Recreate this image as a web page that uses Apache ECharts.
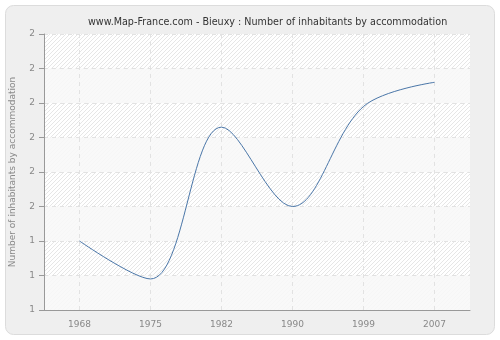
<!DOCTYPE html>
<html><head><meta charset="utf-8">
<script src="https://cdn.jsdelivr.net/npm/echarts@6/dist/echarts.min.js"></script>
<style>html,body{margin:0;padding:0;background:#fff}#c{width:500px;height:340px}</style>
</head><body><div id="c"></div>
<script>
const years = ['1968','1975','1982','1990','1999','2007'];
const values = [1.40, 1.29, 1.73, 1.50, 1.79, 1.86];
const yMin = 1.2, yMax = 2.0, yStep = 0.1;
const titleText = 'www.Map-France.com - Bieuxy : Number of inhabitants by accommodation';
const yName = 'Number of inhabitants by accommodation';

const pc = document.createElement('canvas');
pc.width = 4; pc.height = 4;
const g = pc.getContext('2d');
g.fillStyle = '#ffffff'; g.fillRect(0,0,4,4);
g.strokeStyle = '#e6e6e6'; g.lineWidth = 1;
g.beginPath();
for (let k=-4;k<=8;k+=4){ g.moveTo(k,4); g.lineTo(k+4,0); }
g.stroke();

const chart = echarts.init(document.getElementById('c'));
chart.setOption({
  animation:false,
  backgroundColor:'#ffffff',
  graphic:[{type:'rect',z:-10,shape:{x:5.5,y:5.5,width:489,height:329,r:8},style:{fill:'#efefef',stroke:'#dcdcdc',lineWidth:1}}],
  title:{text:titleText,left:83,top:12,textStyle:{fontFamily:'DejaVu Sans',fontSize:9.6,fontWeight:'normal',color:'#333'}},
  grid:{left:40,right:30,top:34,bottom:30,show:true,backgroundColor:{image:pc,repeat:'repeat'},borderWidth:0},
  xAxis:{type:'category',data:years,boundaryGap:true,
    axisLine:{lineStyle:{color:'#999'}},
    axisTick:{alignWithLabel:true,length:5,lineStyle:{color:'#999'}},
    axisLabel:{color:'#888',fontFamily:'DejaVu Sans',fontSize:9,margin:10},
    splitLine:{show:true,alignWithLabel:true,lineStyle:{color:'#e2e2e2',type:[4,4]}}},
  yAxis:{type:'value',min:yMin,max:yMax,interval:yStep,
    name:yName,nameLocation:'middle',nameGap:27,nameTextStyle:{color:'#888',fontFamily:'DejaVu Sans',fontSize:9},
    axisLine:{show:true,lineStyle:{color:'#999'}},
    axisTick:{show:true,length:5,lineStyle:{color:'#999'}},
    axisLabel:{color:'#888',fontFamily:'DejaVu Sans',fontSize:9,margin:9,formatter:v=>String(Math.round(v))},
    splitLine:{show:true,lineStyle:{color:'#e2e2e2',type:[4,4]}},
    splitArea:{show:true,areaStyle:{color:['rgba(248,248,248,0.85)','rgba(0,0,0,0)']}}},
  series:[{type:'line',data:values,smooth:0.35,symbol:'none',lineStyle:{color:'#4a76a8',width:1}}]
});
</script></body></html>
